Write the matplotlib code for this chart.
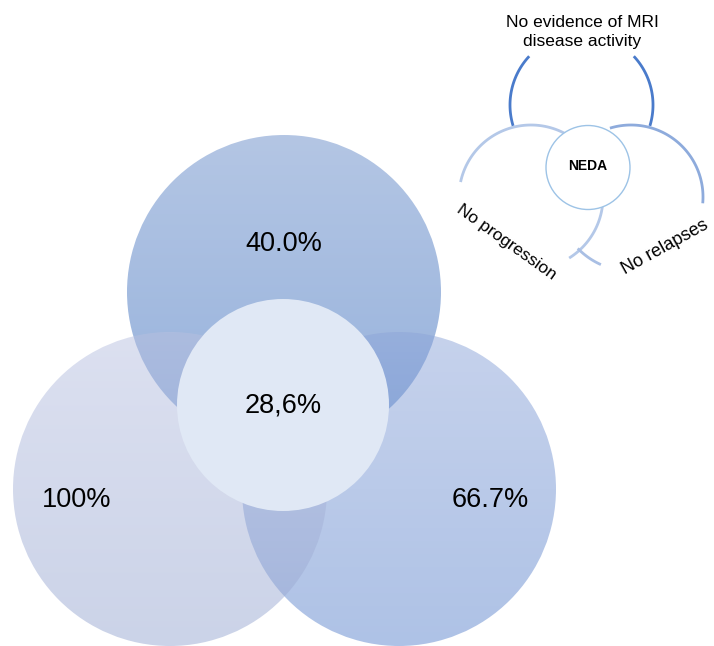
import numpy as np
import matplotlib
matplotlib.use("Agg")
import matplotlib.pyplot as plt
from matplotlib.patches import Circle

plt.rcParams['font.family'] = ['Liberation Sans', 'DejaVu Sans']

# values shown in the diagram
region_labels = ["40.0%", "100%", "66.7%", "28,6%"]
legend_labels = ["No evidence of MRI\ndisease activity", "No progression", "No relapses", "NEDA"]

# big circles: (cx, cy, r, top colour, bottom colour), pixel space, drawn in this order
circles = [
    (284, 292, 157, (105, 141, 201), (41, 99, 185)),    # MRI (top)
    (399, 489, 157, (141, 165, 217), (93, 133, 205)),   # relapses (right)
    (170, 489, 157, (185, 193, 225), (151, 167, 209)),  # progression (left)
]
label_pos = [(284, 244), (77, 500), (490, 500), (283, 406)]


def gradient_circle(ax, cx, cy, r, c_top, c_bot, alpha=0.5):
    n = 256
    t = np.linspace(0, 1, n)[:, None]
    top = np.array(c_top) / 255
    bot = np.array(c_bot) / 255
    rgb = top * (1 - t) + bot * t
    img = np.zeros((n, 2, 4))
    img[:, :, :3] = rgb[:, None, :]
    img[:, :, 3] = alpha
    clip = Circle((cx, cy), r, transform=ax.transData, facecolor="none", edgecolor="none")
    ax.add_patch(clip)
    im = ax.imshow(img, extent=(cx - r, cx + r, cy + r, cy - r), origin="upper",
                   interpolation="bilinear", aspect="auto", zorder=1)
    im.set_clip_path(clip)


def arc(ax, cx, cy, r, a1, a2, color, lw=2.0):
    t = np.radians(np.linspace(a1, a2, 100))
    ax.plot(cx + r * np.cos(t), cy - r * np.sin(t), color=color, lw=lw,
            solid_capstyle="butt", zorder=3)


fig = plt.figure(figsize=(7.14, 6.46), dpi=100)
ax = fig.add_axes([0, 0, 1, 1])
ax.set_xlim(0, 714)
ax.set_ylim(646, 0)
ax.axis("off")

for cx, cy, r, ct, cb in circles:
    gradient_circle(ax, cx, cy, r, ct, cb)

ax.add_patch(Circle((283, 405), 106, facecolor="#e0e8f5", edgecolor="none", zorder=2))

for lab, (x, y) in zip(region_labels, label_pos):
    ax.text(x, y, lab, ha="center", va="center", fontsize=19.5, color="black", zorder=4)

# small key in the top right corner
arc(ax, 581.5, 105, 71.5, 137, 197, "#4a7bcb")
arc(ax, 581.5, 105, 71.5, -17, 43, "#4a7bcb")
arc(ax, 531, 197, 72, -58, 168, "#b4c8e8")
arc(ax, 631, 197, 72, -5, 107, "#8eabdc")
arc(ax, 631, 197, 74, -136, -114, "#a9bfe4")
ax.add_patch(Circle((588, 167.5), 42, facecolor="white", edgecolor="#9dc3e6",
                    lw=1.0, zorder=5))

ax.text(582, 32, legend_labels[0], ha="center", va="center", fontsize=12.5,
        linespacing=1.3, zorder=6)
ax.text(506, 242, legend_labels[1], ha="center", va="center", fontsize=12.5,
        rotation=-35.5, rotation_mode="anchor", zorder=6)
ax.text(665, 247, legend_labels[2], ha="center", va="center", fontsize=13,
        rotation=29, rotation_mode="anchor", zorder=6)
ax.text(588, 166, legend_labels[3], ha="center", va="center", fontsize=10,
        fontweight="bold", zorder=6)

fig.savefig("out.png", dpi=100)
